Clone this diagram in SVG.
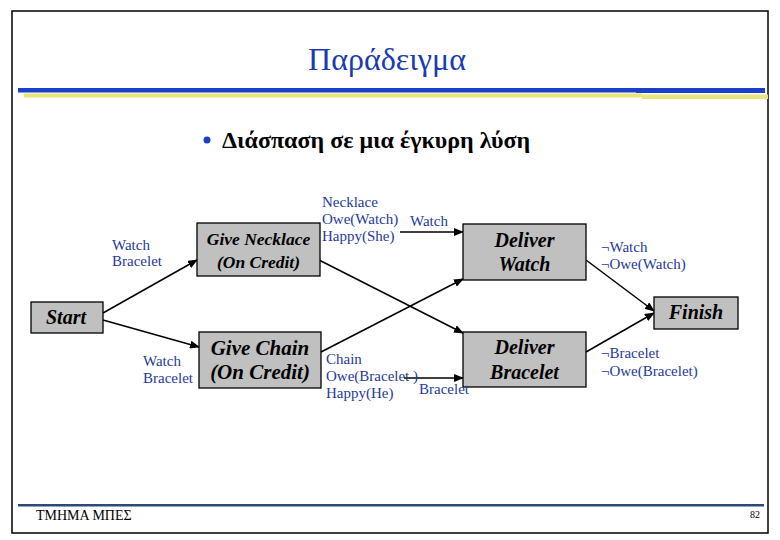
<svg xmlns="http://www.w3.org/2000/svg" width="780" height="540" viewBox="0 0 780 540">
<defs>
<marker id="ah" markerWidth="10" markerHeight="8" refX="9" refY="4" orient="auto" markerUnits="userSpaceOnUse">
<path d="M0,0 L10,4 L0,8 Z" fill="#000"/>
</marker>
<style>
text{font-family:'Liberation Serif','Times New Roman','DejaVu Serif',serif}
.box{fill:#c0c0c0;stroke:#000;stroke-width:1.3}
.nt{font-weight:bold;font-style:italic;font-size:20px;fill:#000;text-anchor:middle}
.nt.sm{font-size:17.5px}
.nt.lg{font-size:21px}
.lb{font-size:15px;fill:#1f3a9a}
.ed{stroke:#000;stroke-width:1.5;fill:none;marker-end:url(#ah)}
</style>
</defs>
<rect x="0" y="0" width="780" height="540" fill="#fff"/>
<rect x="12" y="11" width="756" height="522" fill="none" stroke="#000" stroke-width="1.5"/>
<text x="387" y="70" font-size="32" fill="#1a3cb0" text-anchor="middle">Παράδειγμα</text>
<rect x="18" y="88" width="620" height="4.5" fill="#1a3fc8"/>
<rect x="636" y="88" width="129" height="5" fill="#1a3fc8"/>
<rect x="24" y="93.5" width="618" height="4" fill="#e8e67a"/>
<rect x="642" y="94.5" width="126" height="4.5" fill="#e8e67a"/>
<circle cx="207" cy="140" r="3.5" fill="#1a3fc8"/>
<text x="222" y="148" font-size="24" font-weight="bold" fill="#000">Διάσπαση σε μια έγκυρη λύση</text>

<g id="edges">
<line class="ed" x1="103" y1="313" x2="197" y2="260"/>
<line class="ed" x1="103" y1="320" x2="199" y2="347"/>
<line class="ed" x1="319" y1="260" x2="463" y2="333"/>
<line class="ed" x1="321" y1="352" x2="463" y2="279"/>
<line class="ed" x1="400" y1="232" x2="463" y2="232"/>
<line class="ed" x1="404" y1="378" x2="463" y2="378"/>
<line class="ed" x1="586" y1="260" x2="654" y2="311"/>
<line class="ed" x1="586" y1="352" x2="654" y2="313"/>
</g>

<g id="start"><rect class="box" x="31" y="302" width="72" height="31"/><text class="nt" x="66" y="324">Start</text></g>
<g id="giveNecklace"><rect class="box" x="197" y="223" width="123" height="53"/><text class="nt sm" x="258.5" y="245">Give Necklace</text><text class="nt sm" x="258.5" y="268">(On Credit)</text></g>
<g id="giveChain"><rect class="box" x="199" y="332" width="122" height="56"/><text class="nt lg" x="260" y="355">Give Chain</text><text class="nt lg" x="260" y="379">(On Credit)</text></g>
<g id="deliverWatch"><rect class="box" x="463" y="224" width="123" height="56"/><text class="nt" x="524.5" y="247">Deliver</text><text class="nt" x="524.5" y="271">Watch</text></g>
<g id="deliverBracelet"><rect class="box" x="463" y="332" width="123" height="55"/><text class="nt" x="524.5" y="354">Deliver</text><text class="nt" x="524.5" y="379">Bracelet</text></g>
<g id="finish"><rect class="box" x="654" y="297" width="84" height="32"/><text class="nt" x="696" y="319">Finish</text></g>

<g id="labels">
<text class="lb" x="112" y="250">Watch</text>
<text class="lb" x="112" y="266">Bracelet</text>
<text class="lb" x="143" y="366">Watch</text>
<text class="lb" x="143" y="383">Bracelet</text>
<text class="lb" x="322" y="207">Necklace</text>
<text class="lb" x="322" y="224">Owe(Watch)</text>
<text class="lb" x="410" y="226">Watch</text>
<text class="lb" x="322" y="241">Happy(She)</text>
<text class="lb" x="326" y="364">Chain</text>
<text class="lb" x="326" y="381">Owe(Bracelet )</text>
<text class="lb" x="326" y="398">Happy(He)</text>
<text class="lb" x="419" y="394">Bracelet</text>
<text class="lb" x="601" y="252">¬Watch</text>
<text class="lb" x="601" y="269">¬Owe(Watch)</text>
<text class="lb" x="601" y="358">¬Bracelet</text>
<text class="lb" x="601" y="376">¬Owe(Bracelet)</text>
</g>

<rect x="18" y="504" width="746" height="2.5" fill="#2b4a78"/>
<text x="36" y="520" font-size="14" fill="#000">ΤΜΗΜΑ ΜΠΕΣ</text>
<text x="760" y="518" font-size="10" fill="#000" text-anchor="end">82</text>
</svg>
